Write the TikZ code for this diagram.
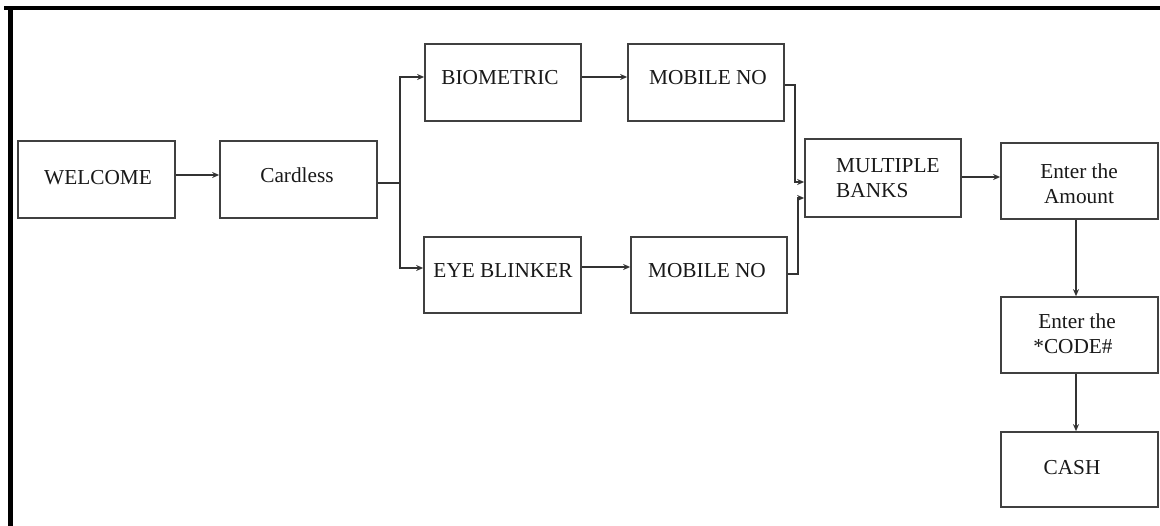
\documentclass[tikz,border=0pt]{standalone}
\usepackage{fontspec}
\setmainfont{Liberation Serif}
\usetikzlibrary{arrows.meta,calc}
\begin{document}
\begin{tikzpicture}[x=1pt,y=-1pt,
  box/.style={draw=black!75,line width=1.7pt,inner sep=0pt,fill=white},
  txt/.style={font=\fontsize{21.3}{25}\selectfont,inner sep=0pt,text=black!90},
  conn/.style={draw=black!80,line width=1.7pt},
  arr/.style={conn,-{Stealth[length=7pt,width=6pt]}}]
\useasboundingbox (0,0) rectangle (1160,526);
\fill[white] (0,0) rectangle (1160,526);
% outer frame
\draw[line width=4pt,black] (4,8) -- (1160,8);
\draw[line width=5pt,black] (10.5,8) -- (10.5,526);
% boxes (x1,x2,y1,y2)
\newcommand{\mkbox}[5]{\node[box,minimum width={#3-#2},minimum height={#5-#4}] (#1) at ({(#2+#3)/2},{(#4+#5)/2}) {};}
\mkbox{welcome}{18}{175}{141}{218}
\mkbox{cardless}{220}{377}{141}{218}
\mkbox{bio}{425}{581}{44}{121}
\mkbox{mobA}{628}{784}{44}{121}
\mkbox{eye}{424}{581}{237}{313}
\mkbox{mobB}{631}{787}{237}{313}
\mkbox{mb}{805}{961}{139}{217}
\mkbox{amount}{1001}{1158}{143}{219}
\mkbox{code}{1001}{1158}{297}{373}
\mkbox{cash}{1001}{1158}{432}{507}
% texts
\node[txt,anchor=base] (t1) at (98,185) {WELCOME};
\node[txt,anchor=base] (t2) at (297,183) {Cardless};
\node[txt,anchor=base] (t3) at (500,85) {BIOMETRIC};
\node[txt,anchor=base] (t4) at (708,85) {MOBILE NO};
\node[txt,anchor=base] (t5) at (503,278) {EYE BLINKER};
\node[txt,anchor=base] (t6) at (707,278) {MOBILE NO};
\node[txt,anchor=base west] (t7a) at (836,173) {MULTIPLE};
\node[txt,anchor=base west] (t7b) at (836,198) {BANKS};
\node[txt,anchor=base] (t8a) at (1079,179) {Enter the};
\node[txt,anchor=base] (t8b) at (1079,204) {Amount};
\node[txt,anchor=base] (t9a) at (1077,329) {Enter the};
\node[txt,anchor=base] (t9b) at (1073,354) {*CODE\#};
\node[txt,anchor=base] (t10) at (1072,475) {CASH};
% connectors
\coordinate (split) at (400,183);
\draw[arr] (welcome.east |- 0,175) -- (cardless.west |- 0,175);
\draw[conn] (cardless.east |- split) -- (split);
\draw[arr] (split) |- (bio.west |- 0,77);
\draw[arr] (split) |- (eye.west |- 0,268);
\draw[arr] (bio.east |- 0,77) -- (mobA.west |- 0,77);
\draw[arr] (eye.east |- 0,267) -- (mobB.west |- 0,267);
\coordinate (ja) at (795,85);
\coordinate (jb) at (798,274);
\draw[arr] (mobA.east |- ja) -- (ja) |- (mb.west |- 0,182);
\draw[arr] (mobB.east |- jb) -- (jb) |- (mb.west |- 0,198);
\draw[arr] (mb.east |- 0,177) -- (amount.west |- 0,177);
\draw[arr] (amount.south -| 1076,0) -- (code.north -| 1076,0);
\draw[arr] (code.south -| 1076,0) -- (cash.north -| 1076,0);
\end{tikzpicture}
\end{document}
